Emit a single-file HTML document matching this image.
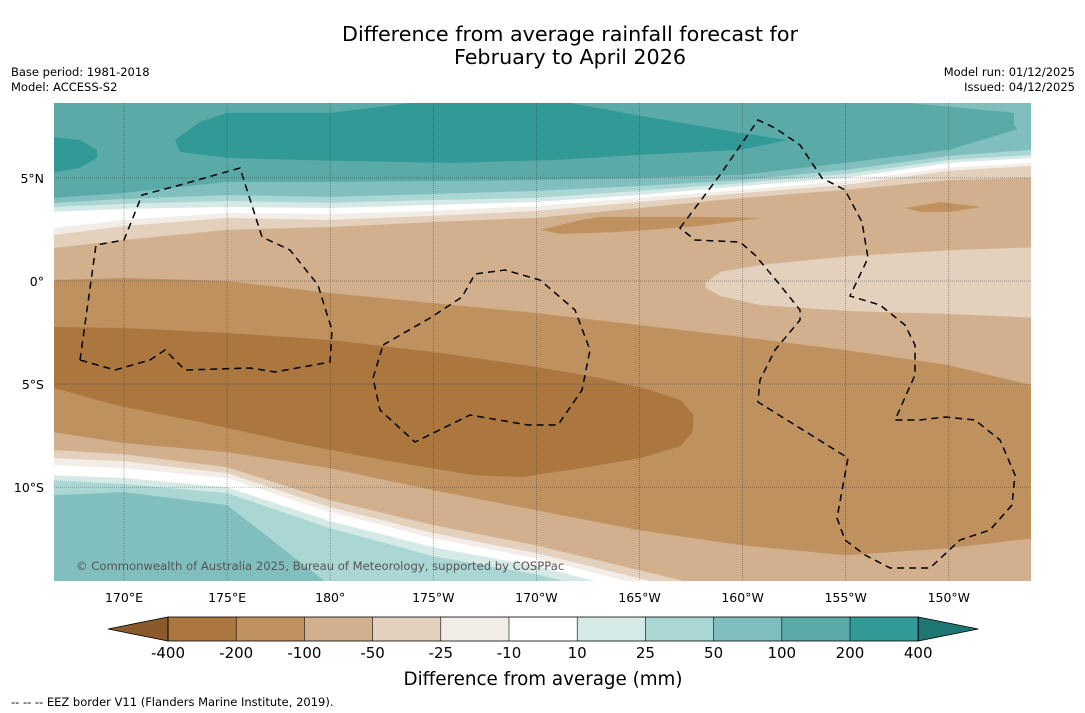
<!DOCTYPE html>
<html><head><meta charset="utf-8"><style>
body{margin:0;background:#fff;width:1085px;height:713px;overflow:hidden;font-family:"DejaVu Sans","Liberation Sans",sans-serif}
svg{display:block;font-family:"DejaVu Sans","Liberation Sans",sans-serif}
</style></head><body>
<svg id="chart" width="1085" height="713" xmlns="http://www.w3.org/2000/svg">
<text x="570" y="41" font-size="20.7" text-anchor="middle" fill="#000">Difference from average rainfall forecast for</text>
<text x="570" y="64" font-size="20.7" text-anchor="middle" fill="#000">February to April 2026</text>
<text x="11" y="76" font-size="11.5">Base period: 1981-2018</text>
<text x="11" y="91" font-size="11.5">Model: ACCESS-S2</text>
<text x="1075" y="76" font-size="11.5" text-anchor="end">Model run: 01/12/2025</text>
<text x="1075" y="91" font-size="11.5" text-anchor="end">Issued: 04/12/2025</text>
<defs><clipPath id="mapclip"><rect x="54" y="103" width="977" height="478"/></clipPath></defs>
<g id="map" clip-path="url(#mapclip)"></g>
<g id="eez" clip-path="url(#mapclip)" fill="none" stroke="#000" stroke-width="1.5" stroke-dasharray="7,5">
<path d="M80,360 L96,245 L124,240 L142,195 L180,185 L240,168 L262,237 L290,250 L318,285 L325,308 L332,330 L330,362 L275,372 L250,368 L185,370 L165,350 L150,360 L115,370 Z"/>
<path d="M383,345 L430,318 L462,297 L475,274 L505,270 L540,280 L575,310 L590,350 L582,390 L558,425 L528,425 L470,415 L415,442 L380,410 L373,378 Z"/>
<path d="M680,228 L720,175 L758,120 L775,128 L800,145 L822,178 L845,190 L862,222 L868,258 L850,296 L880,305 L905,325 L915,345 L915,375 L895,420 L920,420 L945,417 L975,420 L1000,440 L1015,475 L1012,505 L990,530 L960,540 L930,568 L890,568 L865,555 L845,540 L837,518 L848,458 L758,402 L760,380 L775,350 L800,320 L800,310 L780,285 L755,255 L740,242 L695,240 Z"/>
</g>
<text x="76" y="570" font-size="11.6" fill="#555">© Commonwealth of Australia 2025, Bureau of Meteorology, supported by COSPPac</text>
<g id="axes"></g>
<g id="cbar"></g>
<text x="543" y="685" font-size="18.3" text-anchor="middle">Difference from average (mm)</text>
<text x="11" y="706" font-size="11.5">--  --  -- EEZ border V11 (Flanders Marine Institute, 2019).</text>
</svg>
<script>
// ---- data ----
const levels = [-400,-200,-100,-50,-25,-10,10,25,50,100,200,400];
const levelColors = ["#ac773f","#bf915f","#d2b08d","#e3d0bd","#f2ede6","#ffffff","#d5e9e6","#aad6d3","#80bfbd","#5aaaa8","#319996"];
const extendLow = "#8b5a2b", extendHigh = "#1f7773";
const lonTicks = [170,175,180,185,190,195,200,205,210];
const lonTickLabels = ["170°E","175°E","180°","175°W","170°W","165°W","160°W","155°W","150°W"];
const latTicks = [5,0,-5,-10];
const latTickLabels = ["5°N","0°","5°S","10°S"];
const lonGrid = [166.6,170,175,180,185,190,195,200,205,210,214];
const top80 = [4.03,4.27,4.81,4.81,4.85,4.90,5.00,5.15,5.73,6.36,7.57];
const topAa = [3.79,3.98,4.17,4.08,4.22,4.37,4.61,4.90,5.39,6.07,6.36];
const topD5 = [3.59,3.74,3.88,3.79,3.93,4.03,4.37,4.76,5.19,5.87,6.12];
const topWh = [3.35,3.50,3.59,3.54,3.69,3.83,4.17,4.61,5.00,5.73,5.97];
const topF2 = [2.57,2.96,3.30,3.25,3.40,3.64,4.03,4.42,4.85,5.49,5.73];
const topE3 = [2.23,2.67,3.06,2.96,3.16,3.40,3.83,4.27,4.66,5.34,5.58];
const topD2 = [1.60,1.99,2.48,2.62,2.86,3.06,3.54,4.03,4.42,4.90,5.00];
const topBf = [0.05,0.15,0.00,-0.58,-1.07,-1.55,-2.14,-2.72,-3.35,-4.08,-5.05];
const botD2 = [-7.33,-7.86,-8.30,-9.08,-10.15,-11.12,-12.09,-12.82,-13.30,-12.96,-12.48];
const botE3 = [-8.20,-8.40,-9.03,-10.63,-11.84,-12.82,-14.03,-15.24,-15.97,-15.49,-15.0];
const botF2 = [-8.59,-8.74,-9.32,-10.97,-12.23,-13.20,-14.42,-15.5,-16.2,-16.0,-15.5];
const botWh = [-8.93,-9.08,-9.56,-11.21,-12.48,-13.45,-14.71,-15.7,-16.5,-16.2,-15.7];
const botD5 = [-9.42,-9.56,-10.0,-11.65,-12.91,-13.83,-15.1,-16,-17,-17,-16];
const botAa = [-9.66,-9.85,-10.29,-11.99,-13.35,-14.22,-15.49,-16.5,-17.5,-17.5,-16.5];
const bot80 = [-10.39,-10.24,-10.87,-14.76,-17.4,-18,-18,-18,-18,-18,-18];
const blobDry400 = [[166.6,-2.23],[170,-2.28],[175.05,-2.52],[180.05,-2.86],[185.05,-3.45],[190.05,-4.17],[193.11,-4.71],[195.53,-5.29],[196.99,-5.78],[197.62,-6.50],[197.57,-7.33],[196.99,-8.01],[195.05,-8.59],[192.14,-9.08],[189.27,-9.51],[186.99,-9.42],[182.62,-8.69],[178.30,-7.86],[173.93,-6.89],[169.61,-6.02],[166.6,-5.19],[166.0,-5.19],[166.0,-2.23]];
const blobDryA = [[190.19,2.48],[192.14,2.96],[193.11,3.11],[197.96,3.11],[200.87,3.06],[197.96,2.67],[194.08,2.38],[191.17,2.28]];
const blobDryB = [[207.91,3.54],[209.61,3.83],[211.55,3.59],[210.10,3.35],[208.64,3.35]];
const blobLightE = [[198.20,-0.10],[198.93,0.44],[200.87,0.78],[205.24,1.21],[210.10,1.50],[214.5,1.65],[214.5,-1.80],[210.10,-1.60],[205.24,-1.46],[200.87,-1.17],[198.93,-0.73],[198.20,-0.34]];
const blobWetBig = [[172.48,6.84],[173.69,7.72],[175.0,8.16],[180.05,8.16],[186.02,8.9],[190.19,8.9],[195.05,8.01],[199.90,7.18],[202.18,6.84],[199.90,6.36],[195.05,6.12],[190.87,5.87],[186.02,5.73],[180.05,5.83],[175.0,5.97],[172.72,6.26]];
const blobWetLeft = [[166.0,7.04],[167.86,6.84],[168.69,6.36],[168.69,5.97],[167.86,5.49],[166.0,5.15]];
const wedgeRight = [[205.24,8.9],[214.5,8.9],[214.5,6.0],[213.16,7.57],[213.16,8.16]];

// ---- axes ----
const X0=124, XS=20.62, Y0=281, YS=20.62;
const X = lon => X0 + (lon-170)*XS;
const Y = lat => Y0 - lat*YS;
const NS="http://www.w3.org/2000/svg";
const map=document.getElementById('map');
function el(tag, attrs, parent){const e=document.createElementNS(NS,tag);for(const k in attrs)e.setAttribute(k,attrs[k]);parent.appendChild(e);return e;}
const L0=160, L1=220, BOTLAT=-20;
function bandBelow(lats, color, name){
  let d="M"+X(L0)+","+Y(lats[0]);
  lonGrid.forEach((lo,i)=>{d+=" L"+X(lo)+","+Y(lats[i]);});
  d+=" L"+X(L1)+","+Y(lats[lats.length-1])+" L"+X(L1)+","+Y(BOTLAT)+" L"+X(L0)+","+Y(BOTLAT)+"Z";
  const p=el('path',{d:d,fill:color},map);
  
  
}
function poly(pts,color,name){
  const d="M"+pts.map(p=>X(p[0])+","+Y(p[1])).join(" L")+"Z";
  const p=el('path',{d:d,fill:color},map);
  
  
}
const bg=el('rect',{x:54,y:103,width:977,height:478,fill:levelColors[9]},map);


bandBelow(top80,levelColors[8],'band-50-100-north');
bandBelow(topAa,levelColors[7],'band-25-50-north');
bandBelow(topD5,levelColors[6],'band-10-25-north');
bandBelow(topWh,levelColors[5],'band-neutral-north');
bandBelow(topF2,levelColors[4],'band-minus10-25-north');
bandBelow(topE3,levelColors[3],'band-minus25-50-north');
bandBelow(topD2,levelColors[2],'band-minus50-100-north');
bandBelow(topBf,levelColors[1],'band-minus100-200');
bandBelow(botD2,levelColors[2],'band-minus50-100-south');
bandBelow(botE3,levelColors[3],'band-minus25-50-south');
bandBelow(botF2,levelColors[4],'band-minus10-25-south');
bandBelow(botWh,levelColors[5],'band-neutral-south');
bandBelow(botD5,levelColors[6],'band-10-25-south');
bandBelow(botAa,levelColors[7],'band-25-50-south');
bandBelow(bot80,levelColors[8],'band-50-100-south');
poly(blobDry400,levelColors[0],'band-minus200-400');
poly(blobDryA,levelColors[1],'dry-patch-central');
poly(blobDryB,levelColors[1],'dry-patch-east');
poly(blobLightE,levelColors[3],'light-dry-region-east');
poly(blobWetBig,levelColors[10],'wet-200-400-main');
poly(blobWetLeft,levelColors[10],'wet-200-400-west');
poly(wedgeRight,levelColors[8],'wet-50-100-northeast');

const axes=document.getElementById('axes');
lonTicks.forEach((lo,i)=>{
  const g=el('line',{x1:X(lo),x2:X(lo),y1:103,y2:581,stroke:'#333','stroke-width':0.7,'stroke-dasharray':'1,1','stroke-opacity':0.55},map);
  
  
  const t=el('text',{x:X(lo),y:602,'font-size':12.5,'text-anchor':'middle'},axes);
  t.textContent=lonTickLabels[i];
  
  
});
latTicks.forEach((la,i)=>{
  const g=el('line',{x1:54,x2:1031,y1:Y(la),y2:Y(la),stroke:'#333','stroke-width':0.7,'stroke-dasharray':'1,1','stroke-opacity':0.55},map);
  
  
  const t=el('text',{x:44,y:Y(la)+5,'font-size':12.5,'text-anchor':'end'},axes);
  t.textContent=latTickLabels[i];
  
  
});

const cb=document.getElementById('cbar');
const cbx0=168, cbw=68.2, cby=617, cbh=24;
const lt=el('polygon',{points:`108,${cby+cbh/2} ${cbx0},${cby} ${cbx0},${cby+cbh}`,fill:extendLow,stroke:'#000','stroke-width':0.8},cb);


levelColors.forEach((c,i)=>{
  const r=el('rect',{x:cbx0+i*cbw,y:cby,width:cbw,height:cbh,fill:c},cb);
  
  
});
const xe=cbx0+levelColors.length*cbw;
const rt=el('polygon',{points:`${xe},${cby} ${xe+60},${cby+cbh/2} ${xe},${cby+cbh}`,fill:extendHigh,stroke:'#000','stroke-width':0.8},cb);


const fr=el('rect',{x:cbx0,y:cby,width:xe-cbx0,height:cbh,fill:'none',stroke:'#000','stroke-width':0.8},cb);


levels.forEach((v,i)=>{
  const x=cbx0+i*cbw;
  const tk=el('line',{x1:x,x2:x,y1:cby,y2:cby+cbh,stroke:'#000','stroke-width':0.6},cb);
  
  
  const t=el('text',{x:x,y:658,'font-size':15,'text-anchor':'middle'},cb);
  t.textContent=v;
  
  
});
</script>
</body></html>
